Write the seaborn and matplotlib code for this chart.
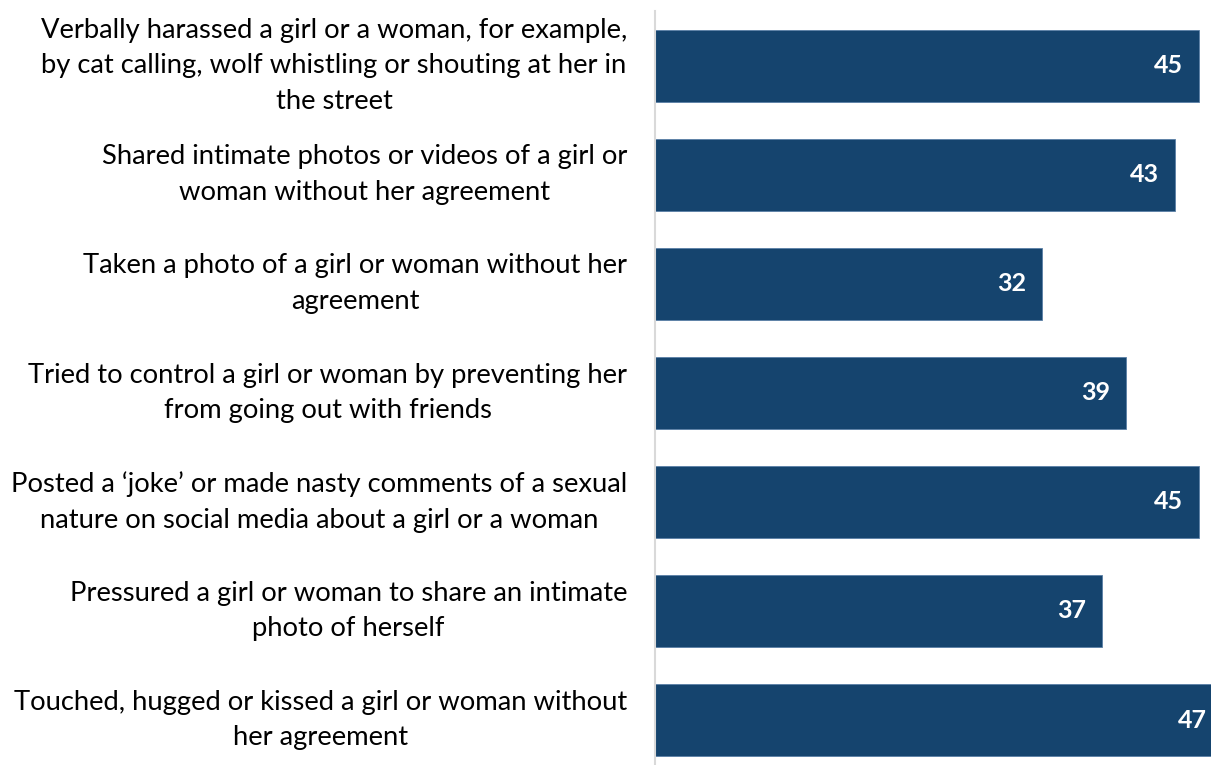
import seaborn as sns
import matplotlib.pyplot as plt

# data
behaviours = [
    "Verbally harassed a girl or a woman, for example,\nby cat calling, wolf whistling or shouting at her in\nthe street",
    "Shared intimate photos or videos of a girl or\nwoman without her agreement",
    "Taken a photo of a girl or woman without her\nagreement",
    "Tried to control a girl or woman by preventing her\nfrom going out with friends",
    "Posted a \u2018joke\u2019 or made nasty comments of a sexual\nnature on social media about a girl or a woman",
    "Pressured a girl or woman to share an intimate\nphoto of herself",
    "Touched, hugged or kissed a girl or woman without\nher agreement",
]
percent = [45, 43, 32, 39, 45, 37, 47]

bar_color = "#15446e"

sns.set_style("white")
plt.rcParams["font.family"] = ["Lato", "DejaVu Sans"]

fig = plt.figure(figsize=(12.11, 7.65), dpi=100)
ax = fig.add_axes([655 / 1211, -0.0125, (1211 - 655) / 1211, 0.998])

sns.barplot(x=percent, y=behaviours, orient="h", color=bar_color, width=0.66,
            saturation=1, edgecolor="#5a7fa6", linewidth=0.6, ax=ax)

# value labels inside the bar ends
for i, v in enumerate(percent):
    ax.annotate(str(v), (v, i), xytext=(-11.5, 0), textcoords="offset points",
                ha="right", va="center", color="white", fontsize=18,
                fontweight="bold", annotation_clip=False)

ax.set_xlim(0, 46)
ax.set_xticks([])
ax.set_xlabel("")
ax.set_ylabel("")
ax.tick_params(axis="y", length=0, pad=20, labelsize=19.7)
for lbl in ax.get_yticklabels():
    lbl.set_multialignment("center")
    lbl.set_linespacing(1.53)
    lbl.set_verticalalignment("center")
    lbl.set_color("black")

for side in ["top", "right", "bottom"]:
    ax.spines[side].set_visible(False)
ax.spines["left"].set_color("#d9d9d9")
ax.spines["left"].set_linewidth(1.5)

plt.savefig("out.png", dpi=100)
